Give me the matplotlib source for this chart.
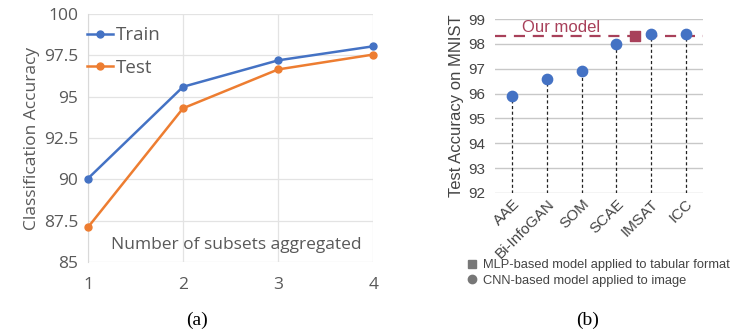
import matplotlib.pyplot as plt
from matplotlib.lines import Line2D

# panel (a) data
subsets = [1, 2, 3, 4]
train_acc = [90.05, 95.6, 97.2, 98.05]
test_acc = [87.1, 94.3, 96.65, 97.55]

# panel (b) data
models = ['AAE', 'Bi-InfoGAN', 'SOM', 'SCAE', 'IMSAT', 'ICC']
model_acc = [95.9, 96.6, 96.9, 98.0, 98.4, 98.4]
our_acc = 98.33
our_pos = 3.55

blue = '#4472C4'
orange = '#ED7D31'
gray_txt = '#595959'
red = '#A8405A'

plt.rcParams['font.family'] = ['Open Sans', 'DejaVu Sans']

fig = plt.figure(figsize=(7.35, 3.35), dpi=100)

# (a)
ax1 = fig.add_axes([0.1197, 0.218, 0.388, 0.740])
ax1.plot(subsets, train_acc, color=blue, lw=1.8, marker='o', ms=5, label='Train', clip_on=False, zorder=3)
ax1.plot(subsets, test_acc, color=orange, lw=1.8, marker='o', ms=5, label='Test', clip_on=False, zorder=3)
ax1.set_xlim(1, 4)
ax1.set_ylim(85, 100)
ax1.set_xticks(subsets)
ax1.set_yticks([85, 87.5, 90, 92.5, 95, 97.5, 100])
ax1.set_yticklabels(['85', '87.5', '90', '92.5', '95', '97.5', '100'])
ax1.grid(True, color='#E3E3E3', lw=0.9)
for s in ['top', 'right', 'bottom']:
    ax1.spines[s].set_visible(False)
ax1.spines['left'].set_color('#D9D9D9')
ax1.tick_params(length=0, colors=gray_txt, labelsize=12.5)
ax1.tick_params(axis='x', pad=11)
ax1.tick_params(axis='y', pad=7)
ax1.set_ylabel('Classification Accuracy', color=gray_txt, fontsize=12.5, labelpad=3)
ax1.text(0.52, 0.07, 'Number of subsets aggregated', transform=ax1.transAxes,
         ha='center', va='center', color=gray_txt, fontsize=12.5)
ax1.legend(loc='upper left', bbox_to_anchor=(-0.005, 0.95), frameon=False, fontsize=13.5,
           labelcolor=gray_txt, handlelength=1.4, handletextpad=0.15, labelspacing=0.75,
           borderaxespad=0, borderpad=0)
fig.text(0.268, 0.045, '(a)', ha='center', va='center', fontsize=14, family='Liberation Serif')

# (b)
ax2 = fig.add_axes([0.6735, 0.424, 0.283, 0.519])
x = list(range(len(models)))
ax2.set_xlim(-0.5, 5.5)
ax2.set_ylim(92, 99)
ax2.vlines(x, 92, model_acc, colors='#222222', linestyles=(0, (2.5, 2)), lw=0.9, zorder=2)
ax2.scatter(x, model_acc, s=55, color=blue, zorder=4, clip_on=False)
ax2.axhline(our_acc, color=red, lw=1.6, ls=(0, (5, 3.5)), zorder=3)
ax2.scatter([our_pos], [our_acc], marker='s', s=50, color=red, zorder=4)
ax2.text(0.28, 98.68, 'Our model', color=red, fontsize=12, ha='left', va='center',
         family='Liberation Sans')
ax2.set_yticks(range(92, 100))
ax2.set_xticks(x)
ax2.set_xticklabels(models, rotation=45, ha='right', rotation_mode='anchor', fontsize=8,
                    color='#444444', family='Liberation Sans')
ax2.grid(True, axis='y', color='#C8C8C8', lw=1.0)
for s in ['top', 'right', 'bottom', 'left']:
    ax2.spines[s].set_visible(False)
ax2.tick_params(length=0, labelsize=11, colors='#444444')
for lbl in ax2.get_yticklabels():
    lbl.set_family('Liberation Sans')
ax2.tick_params(axis='y', pad=7)
ax2.tick_params(axis='x', pad=3)
ax2.set_ylabel('Test Accuracy on MNIST', color='#444444', fontsize=12, labelpad=3,
               family='Liberation Sans')

handles = [Line2D([], [], ls='', marker='s', color='#777777', ms=6),
           Line2D([], [], ls='', marker='o', color='#777777', ms=6)]
fig.legend(handles, ['MLP-based model applied to tabular format', 'CNN-based model applied to image'],
           loc='upper left', bbox_to_anchor=(0.624, 0.245), frameon=False,
           prop={'family': 'Liberation Sans', 'size': 9.3},
           labelcolor='#444444', handletextpad=0.4, labelspacing=0.25, borderpad=0, handlelength=1)
fig.text(0.80, 0.045, '(b)', ha='center', va='center', fontsize=14, family='Liberation Serif')

fig.savefig('out.png', dpi=100)
